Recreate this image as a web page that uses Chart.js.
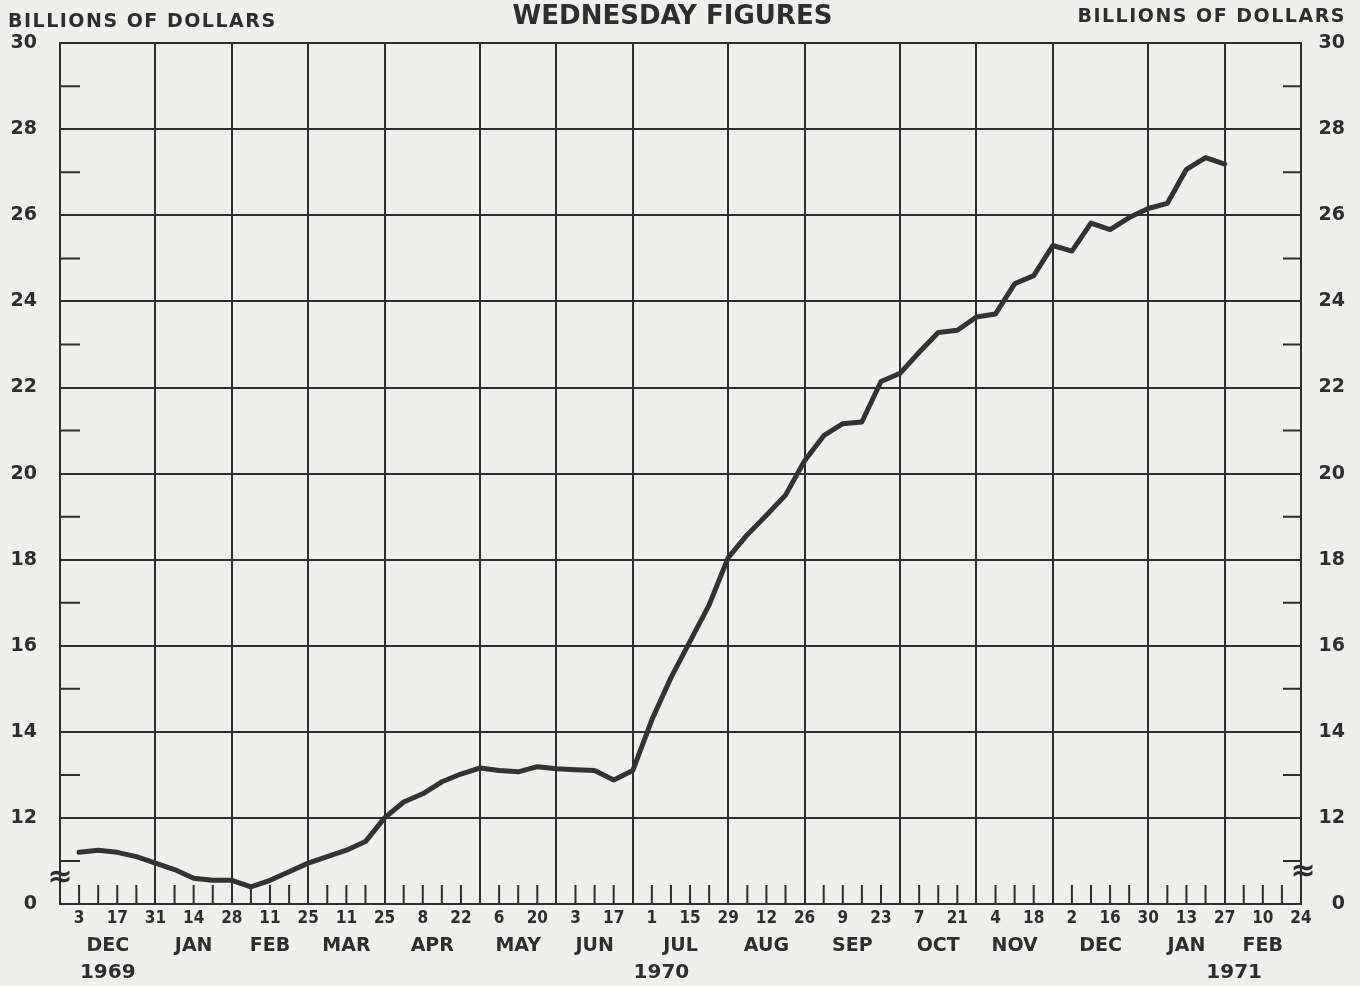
<!DOCTYPE html>
<html>
<head>
<meta charset="utf-8">
<title>Wednesday Figures</title>
<script src="https://cdn.jsdelivr.net/npm/chart.js@4/dist/chart.umd.min.js"></script>
<style>
  html, body { margin: 0; padding: 0; background: #efefed; }
</style>
</head>
<body>
<canvas id="chart" width="1360" height="986"></canvas>
<script>
// Wednesdays, 26 Nov 1969 .. 24 Feb 1971 (day of month)
const weekDays = [26,
  3, 10, 17, 24, 31,  7, 14, 21, 28,  4, 11, 18, 25,  4, 11, 18, 25,
  1, 8, 15, 22, 29,  6, 13, 20, 27,  3, 10, 17, 24,  1, 8, 15, 22, 29,
  5, 12, 19, 26,  2, 9, 16, 23, 30,  7, 14, 21, 28,  4, 11, 18, 25,
  2, 9, 16, 23, 30,  6, 13, 20, 27,  3, 10, 17, 24];
const monthNames = ['DEC', 'JAN', 'FEB', 'MAR', 'APR', 'MAY', 'JUN', 'JUL',
  'AUG', 'SEP', 'OCT', 'NOV', 'DEC', 'JAN', 'FEB'];
const firstYear = 1969;

// billions of dollars, weekly from 3 Dec 1969 to 27 Jan 1971
const values = [
  11.2, 11.25, 11.2, 11.1, 10.95,
  10.8, 10.6, 10.55, 10.55,
  10.4, 10.55, 10.75, 10.95,
  11.1, 11.25, 11.45, 12.0,
  12.37, 12.56, 12.84, 13.02, 13.16,
  13.1, 13.07, 13.19, 13.14,
  13.12, 13.1, 12.88, 13.1,
  14.28, 15.26, 16.1, 16.95, 18.05,
  18.58, 19.03, 19.5, 20.3,
  20.88, 21.16, 21.2, 22.14, 22.33,
  22.82, 23.28, 23.33, 23.64,
  23.71, 24.41, 24.6, 25.3,
  25.17, 25.82, 25.67, 25.95, 26.16,
  26.28, 27.07, 27.34, 27.19
];

const ink = '#2e2e2e';

// month ends = last Wednesday of a month (next week has a smaller day)
const isMonthEnd = weekDays.map((d, i) => i === weekDays.length - 1 || weekDays[i + 1] < d);
const monthEnds = [];
isMonthEnd.forEach((m, i) => { if (m) monthEnds.push(i); });
const monthCenters = monthEnds.slice(1).map((e, k) => (e + monthEnds[k]) / 2);

// year of each week, and centre of each year's span
const weekYears = [];
let yr = firstYear;
weekDays.forEach((d, i) => {
  if (i > 0 && d < weekDays[i - 1]) {
    const mi = monthEnds.indexOf(i - 1);
    if (monthNames[mi - 1] === 'DEC') yr++;
  }
  weekYears.push(yr);
});
const yearLabels = [...new Set(weekYears)].map(String);
const yearCenters = yearLabels.map(y => {
  const idx = weekYears.map((w, i) => String(w) === y ? i : -1).filter(i => i >= 0);
  return (idx[0] + idx[idx.length - 1]) / 2;
});

const seriesData = [null, ...values];
while (seriesData.length < weekDays.length) seriesData.push(null);

const decor = {
  id: 'decor',
  beforeDraw(chart) {
    const c = chart.ctx;
    c.save();
    c.fillStyle = '#efefed';
    c.fillRect(0, 0, chart.width, chart.height);
    c.restore();
  },
  afterDraw(chart) {
    const c = chart.ctx;
    const a = chart.chartArea;
    const xs = chart.scales.x;
    const ys = chart.scales.y;
    c.save();
    c.strokeStyle = ink;
    c.lineWidth = 2;
    // weekly ticks
    for (let i = 1; i < weekDays.length - 1; i++) {
      if (isMonthEnd[i]) continue;
      const x = xs.getPixelForValue(i);
      c.beginPath();
      c.moveTo(x, a.bottom);
      c.lineTo(x, a.bottom - 19);
      c.stroke();
    }
    // odd value ticks on both sides
    for (let v = 11; v < 30; v += 2) {
      const y = ys.getPixelForValue(v);
      c.beginPath();
      c.moveTo(a.left, y); c.lineTo(a.left + 20, y);
      c.moveTo(a.right - 18, y); c.lineTo(a.right, y);
      c.stroke();
    }
    // scale break marks
    c.fillStyle = ink;
    c.font = 'bold 30px "DejaVu Sans"';
    c.textAlign = 'center';
    c.textBaseline = 'middle';
    c.fillText('\u2248', a.left, ys.getPixelForValue(10.6));
    c.fillText('\u2248', a.right + 2, ys.getPixelForValue(10.75));
    // unit labels
    c.font = 'bold 19px "DejaVu Sans"';
    c.letterSpacing = '1.5px';
    c.textBaseline = 'alphabetic';
    c.textAlign = 'left';
    c.fillText('BILLIONS OF DOLLARS', 8, 27);
    c.textAlign = 'right';
    c.fillText('BILLIONS OF DOLLARS', 1346, 22);
    c.restore();
  }
};

const ctx = document.getElementById('chart').getContext('2d');
const chart = new Chart(ctx, {
  type: 'line',
  data: {
    labels: weekDays.map(String),
    datasets: [{
      label: 'Wednesday figures',
      data: seriesData,
      borderColor: '#333',
      borderWidth: 5,
      pointRadius: 0,
      tension: 0,
      borderJoinStyle: 'round',
      borderCapStyle: 'round',
      fill: false
    }]
  },
  options: {
    responsive: false,
    animation: false,
    layout: { padding: { left: 0, right: 15, top: 0, bottom: 0 } },
    plugins: {
      legend: { display: false },
      tooltip: { enabled: false },
      title: {
        display: true,
        text: 'WEDNESDAY FIGURES',
        color: ink,
        font: { family: 'DejaVu Sans', size: 26, weight: 'bold' },
        padding: { top: 2, bottom: 10 }
      }
    },
    scales: {
      x: {
        type: 'category',
        position: 'bottom',
        weight: 0,
        afterFit: s => { s.height = 30; },
        grid: {
          color: c => isMonthEnd[c.index] ? ink : 'transparent',
          lineWidth: 2,
          drawTicks: false
        },
        border: { display: true, color: ink, width: 2 },
        ticks: {
          autoSkip: false,
          maxRotation: 0,
          padding: 4,
          color: ink,
          font: { family: '"Liberation Sans Narrow", "DejaVu Sans Condensed", sans-serif', size: 17, weight: 'bold' },
          callback: (v, i) => i % 2 === 1 ? String(weekDays[i]) : ''
        }
      },
      xm: {
        type: 'linear',
        position: 'bottom',
        weight: 1,
        min: 0,
        max: weekDays.length - 1,
        afterBuildTicks: s => { s.ticks = monthCenters.map(v => ({ value: v })); },
        afterFit: s => { s.height = 27; },
        grid: { display: false, drawTicks: false },
        border: { display: false },
        ticks: {
          autoSkip: false,
          maxRotation: 0,
          padding: 1,
          color: ink,
          font: { family: 'DejaVu Sans', size: 19, weight: 'bold' },
          callback: (v, i) => monthNames[i]
        }
      },
      xy: {
        type: 'linear',
        position: 'bottom',
        weight: 2,
        min: 0,
        max: weekDays.length - 1,
        afterBuildTicks: s => { s.ticks = yearCenters.map(v => ({ value: v })); },
        afterFit: s => { s.height = 25; },
        grid: { display: false, drawTicks: false },
        border: { display: false },
        ticks: {
          autoSkip: false,
          maxRotation: 0,
          padding: 0,
          color: ink,
          font: { family: 'DejaVu Sans', size: 20, weight: 'bold' },
          callback: (v, i) => yearLabels[i]
        }
      },
      y: {
        type: 'linear',
        position: 'left',
        min: 10,
        max: 30,
        afterFit: s => { s.width = 60; },
        grid: {
          color: c => c.tick && c.tick.value === 10 ? 'transparent' : ink,
          lineWidth: 2,
          drawTicks: false
        },
        border: { display: true, color: ink, width: 2 },
        ticks: {
          stepSize: 2,
          padding: 23,
          color: ink,
          font: { family: 'DejaVu Sans', size: 19, weight: 'bold' },
          callback: v => v === 10 ? '0' : String(v)
        }
      },
      y2: {
        type: 'linear',
        position: 'right',
        min: 10,
        max: 30,
        afterFit: s => { s.width = 44; },
        grid: { display: false, drawTicks: false },
        border: { display: true, color: ink, width: 2 },
        ticks: {
          stepSize: 2,
          crossAlign: 'far',
          color: ink,
          font: { family: 'DejaVu Sans', size: 19, weight: 'bold' },
          callback: v => v === 10 ? '0' : String(v)
        }
      }
    }
  },
  plugins: [decor]
});
</script>
</body>
</html>
